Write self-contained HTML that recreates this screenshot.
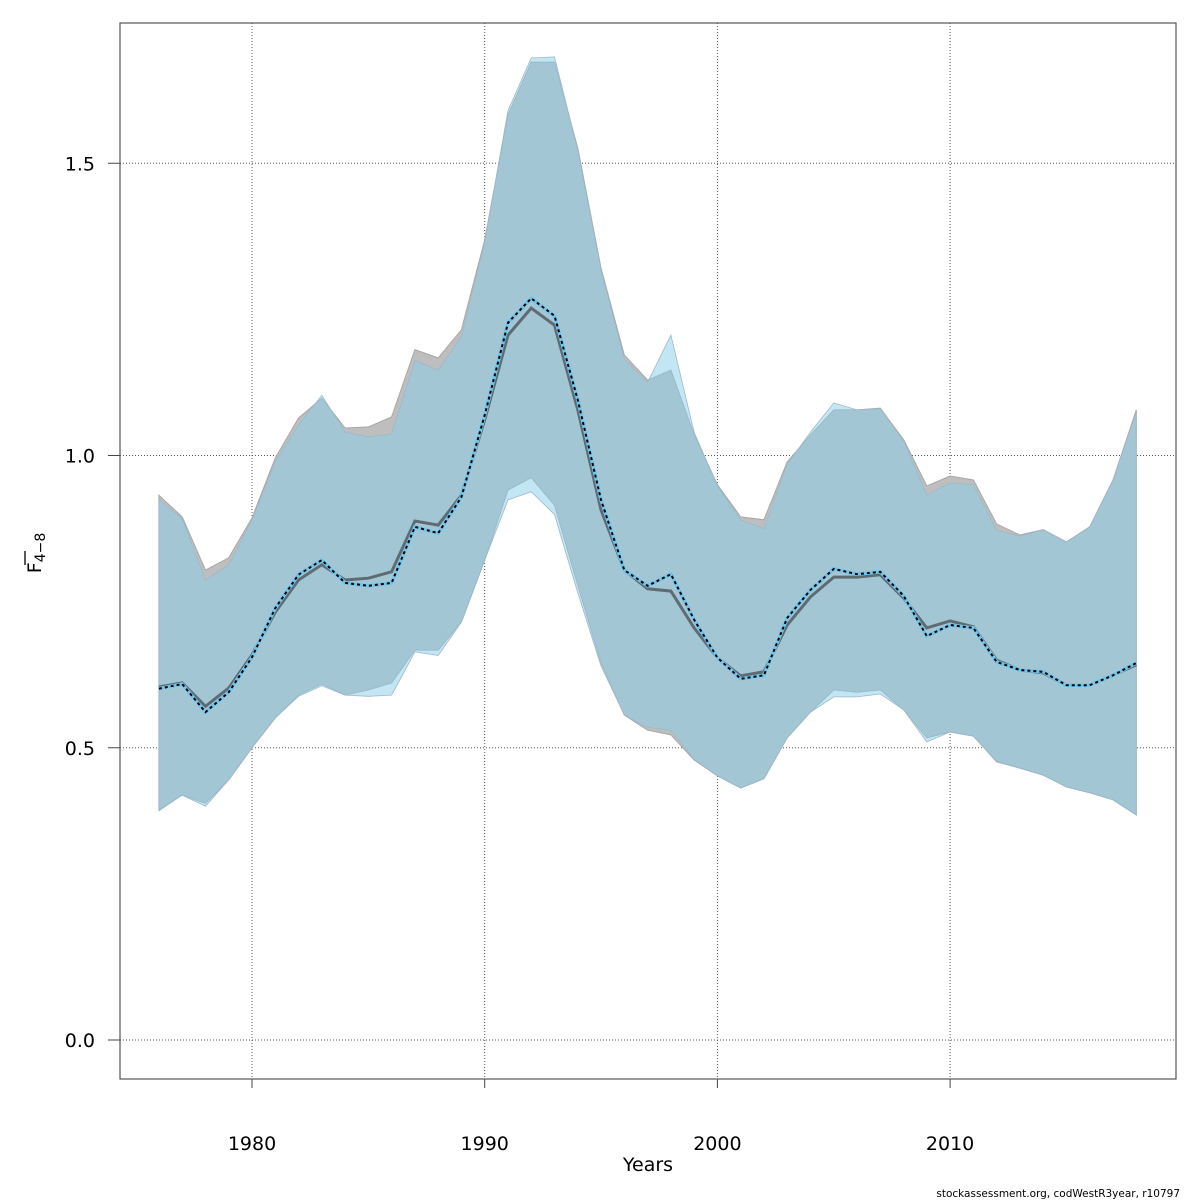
<!DOCTYPE html>
<html><head><meta charset="utf-8"><style>
html,body{margin:0;padding:0;background:#fff;}
svg{display:block;font-family:"DejaVu Sans","Liberation Sans",sans-serif;}
</style></head><body>
<svg id="chart" width="1200" height="1200" viewBox="0 0 1200 1200" xmlns="http://www.w3.org/2000/svg">
<g id="grid"></g>
<g id="bands"></g>
<g id="lines"></g>
<g id="axes"></g>
<rect x="120" y="23" width="1056" height="1056" fill="none" stroke="#555" stroke-width="1.2"/>
<text x="648" y="1171" font-size="19" text-anchor="middle">Years</text>
<g transform="translate(41,553) rotate(-90)">
  <text x="0" y="0" font-size="19" text-anchor="middle"><tspan>F</tspan><tspan font-size="14" dy="4">4−8</tspan></text>
  <line x1="-12" y1="-16" x2="2" y2="-16" stroke="#000" stroke-width="1.3"/>
</g>
<text x="1180" y="1197" font-size="10.5" text-anchor="end">stockassessment.org, codWestR3year, r10797</text>
</svg>
<script>
const years = [];
for (let y = 1976; y <= 2018; y++) years.push(y);
const xTicks = [1980, 1990, 2000, 2010];
const yTicks = [0.0, 0.5, 1.0, 1.5];
const yTickLabels = ["0.0", "0.5", "1.0", "1.5"];
const greyUpper = [0.932,0.895,0.804,0.825,0.893,0.996,1.064,1.098,1.047,1.049,1.066,1.181,1.167,1.215,1.369,1.583,1.673,1.673,1.526,1.321,1.172,1.129,1.146,1.036,0.950,0.895,0.890,0.989,1.035,1.078,1.078,1.081,1.027,0.948,0.965,0.958,0.883,0.864,0.873,0.852,0.878,0.958,1.078];
const greyLower = [0.394,0.419,0.405,0.445,0.500,0.551,0.590,0.609,0.590,0.599,0.611,0.667,0.667,0.715,0.821,0.941,0.962,0.915,0.778,0.645,0.556,0.530,0.522,0.479,0.452,0.431,0.447,0.517,0.561,0.599,0.595,0.599,0.565,0.517,0.527,0.520,0.476,0.465,0.453,0.433,0.423,0.411,0.385];
const greyMean = [0.604,0.611,0.571,0.602,0.659,0.732,0.787,0.813,0.787,0.790,0.801,0.888,0.881,0.932,1.061,1.206,1.252,1.223,1.078,0.907,0.804,0.772,0.768,0.705,0.654,0.623,0.630,0.710,0.758,0.792,0.792,0.796,0.756,0.705,0.717,0.707,0.650,0.633,0.628,0.607,0.607,0.624,0.642];
const blueUpper = [0.924,0.892,0.787,0.813,0.890,0.990,1.052,1.103,1.040,1.032,1.037,1.163,1.146,1.203,1.365,1.590,1.680,1.682,1.522,1.318,1.165,1.125,1.206,1.040,0.948,0.890,0.875,0.985,1.040,1.090,1.078,1.080,1.025,0.932,0.953,0.950,0.872,0.862,0.873,0.852,0.878,0.958,1.075];
const blueLower = [0.392,0.419,0.400,0.445,0.500,0.551,0.588,0.606,0.590,0.588,0.590,0.664,0.658,0.715,0.821,0.924,0.938,0.899,0.765,0.640,0.556,0.535,0.530,0.480,0.452,0.431,0.447,0.517,0.561,0.587,0.587,0.592,0.565,0.510,0.527,0.520,0.477,0.465,0.453,0.433,0.423,0.411,0.385];
const blueMean = [0.601,0.609,0.561,0.595,0.655,0.739,0.796,0.821,0.782,0.777,0.782,0.878,0.867,0.929,1.069,1.227,1.269,1.239,1.095,0.924,0.804,0.777,0.797,0.719,0.654,0.618,0.624,0.722,0.770,0.806,0.797,0.801,0.760,0.691,0.710,0.705,0.647,0.633,0.630,0.607,0.607,0.624,0.645];

const NS = "http://www.w3.org/2000/svg";
function xs(v){ return 252 + (v - 1980) * 23.27; }
function ys(v){ return 1040 - v * 584.5; }
function mk(tag, attrs, parent){
  const e = document.createElementNS(NS, tag);
  for (const k in attrs) e.setAttribute(k, attrs[k]);
  parent.appendChild(e);
  return e;
}
function pts(arr){ return arr.map((v,i)=>xs(years[i]).toFixed(1)+","+ys(v).toFixed(1)); }

const grid = document.getElementById('grid');
xTicks.forEach(t=>{
  const l = mk('line',{x1:xs(t),x2:xs(t),y1:23,y2:1079,stroke:'#555','stroke-width':1,'stroke-dasharray':'1,2'},grid);
  
  
});
yTicks.forEach(t=>{
  const l = mk('line',{x1:120,x2:1176,y1:ys(t),y2:ys(t),stroke:'#555','stroke-width':1,'stroke-dasharray':'1,2'},grid);
  
  
});

const bands = document.getElementById('bands');
const gp = mk('polygon',{points:pts(greyUpper).concat(pts(greyLower).reverse()).join(' '),fill:'#bebebe',stroke:'#a8a8a8','stroke-width':1},bands);


const bp = mk('polygon',{points:pts(blueUpper).concat(pts(blueLower).reverse()).join(' '),fill:'#87ceeb','fill-opacity':0.5,stroke:'#9cb8c8','stroke-width':0.8},bands);



const lines = document.getElementById('lines');
const gl = mk('polyline',{points:pts(greyMean).join(' '),fill:'none',stroke:'#5f6b72','stroke-width':3},lines);


const bl = mk('polyline',{points:pts(blueMean).join(' '),fill:'none',stroke:'#6ec6ec','stroke-width':3.5},lines);


const dl = mk('polyline',{points:pts(blueMean).join(' '),fill:'none',stroke:'#000','stroke-width':2,'stroke-dasharray':'3,3'},lines);



const axes = document.getElementById('axes');
xTicks.forEach(t=>{
  const tk = mk('line',{x1:xs(t),x2:xs(t),y1:1079,y2:1088,stroke:'#444','stroke-width':1},axes);
  
  
  const tx = mk('text',{x:xs(t),y:1150,'font-size':19,'text-anchor':'middle'},axes);
  
  
  tx.textContent = t;
});
yTicks.forEach((t,i)=>{
  const tk = mk('line',{x1:108,x2:120,y1:ys(t),y2:ys(t),stroke:'#444','stroke-width':1},axes);
  
  
  const tx = mk('text',{x:95,y:ys(t)+7,'font-size':19,'text-anchor':'end'},axes);
  
  
  tx.textContent = yTickLabels[i];
});
</script>
</body></html>
